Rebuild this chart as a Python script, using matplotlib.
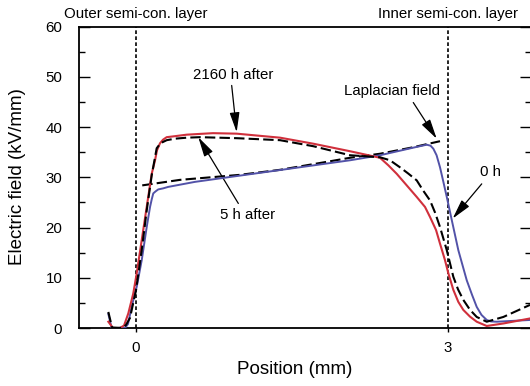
import matplotlib
matplotlib.use("Agg")
import matplotlib.pyplot as plt
from matplotlib.ticker import MultipleLocator

plt.rcParams['font.family'] = ['Liberation Sans', 'DejaVu Sans']

# ---- data ----
pos_0h = [-0.266, -0.234, -0.173, -0.135, -0.106, -0.077, -0.041, -0.019, 0.007, 0.055,
          0.103, 0.135, 0.151, 0.166, 0.188, 0.214, 0.26, 0.31, 0.567, 2.058,
          2.346, 2.663, 2.795, 2.832, 2.859, 2.89, 2.923, 2.952, 2.988, 3.036,
          3.099, 3.18, 3.231, 3.276, 3.322, 3.372, 3.413, 3.468, 3.788]
field_0h = [2.8, 0.0, 0.0, 0.1, 0.0, 0.8, 4.2, 6.2, 8.2, 13.5,
            20.1, 24.1, 25.6, 26.8, 27.2, 27.6, 27.8, 28.1, 29.1, 33.4,
            34.4, 35.9, 36.5, 36.3, 35.7, 34.4, 32.0, 29.4, 26.1, 21.5,
            15.5, 9.5, 6.6, 4.2, 2.6, 1.6, 1.3, 1.25, 1.6]

pos_2160h = [-0.266, -0.221, -0.154, -0.115, -0.074, -0.026, 0.007, 0.055, 0.103, 0.151,
             0.183, 0.202, 0.231, 0.26, 0.295, 0.375, 0.488, 0.74, 0.968, 1.385,
             1.705, 2.058, 2.346, 2.426, 2.507, 2.603, 2.699, 2.779, 2.827, 2.885,
             2.923, 2.971, 3.003, 3.051, 3.099, 3.147, 3.212, 3.276, 3.372, 3.532,
             3.788]
field_2160h = [1.25, 0.0, 0.0, 0.5, 2.9, 6.9, 10.9, 17.5, 24.1, 30.7,
               33.4, 35.4, 36.8, 37.5, 38.0, 38.2, 38.5, 38.8, 38.7, 37.9,
               36.7, 35.2, 33.9, 32.4, 30.7, 28.4, 26.1, 24.1, 22.1, 19.5,
               16.8, 13.5, 10.9, 7.6, 5.2, 3.6, 2.25, 1.25, 0.4, 0.9,
               1.9]

pos_5h = [-0.266, -0.23, -0.135, -0.096, -0.058, 0.0, 0.055, 0.103, 0.151, 0.199,
          0.236, 0.295, 0.375, 0.488, 0.615, 0.968, 1.385, 1.705, 2.058, 2.346,
          2.442, 2.538, 2.615, 2.699, 2.76, 2.827, 2.875, 2.923, 2.988, 3.019,
          3.051, 3.096, 3.147, 3.212, 3.276, 3.372, 3.532, 3.788]
field_5h = [3.2, 0.1, 0.0, 0.6, 2.0, 7.5, 15.5, 23.4, 30.4, 35.8,
            36.8, 37.4, 37.7, 37.9, 38.0, 37.8, 37.4, 36.2, 34.4, 34.0,
            33.4, 32.0, 30.8, 29.4, 27.4, 25.4, 23.0, 20.1, 15.5, 12.9,
            10.2, 7.7, 5.6, 3.6, 2.2, 1.25, 2.2, 4.6]

pos_lap = [0.06, 0.423, 1.0, 1.385, 1.865, 2.058, 2.346, 2.666, 2.923]
field_lap = [28.4, 29.5, 30.5, 31.5, 33.2, 33.9, 34.7, 36.0, 37.2]

layer_pos = [0, 3]
layer_names = ["Outer semi-con. layer", "Inner semi-con. layer"]
x_ticks = [0, 3]
x_ticklabels = ["0", "3"]

# annotations: (text, text_xy, arrow_tail, arrow_tip)
annotations = [
    ("2160 h after", (0.937, 50.3), (0.92, 48.3), (0.968, 39.0)),
    ("5 h after", (1.077, 22.5), (0.984, 24.8), (0.599, 38.0)),
    ("Laplacian field", (2.459, 47.1), (2.666, 44.9), (2.891, 37.7)),
    ("0 h", (3.404, 31.0), (3.324, 28.7), (3.045, 21.8)),
]

RED = '#d0303c'
BLUE = '#5252a8'
FS = 10.8

fig = plt.figure(figsize=(5.30, 3.86), dpi=100)
ax = fig.add_axes([79/530, 58/386, 451.5/530, 301.3/386])

ax.set_xlim(-0.548, 3.793)
ax.set_ylim(0, 60)

for xp in layer_pos:
    ax.plot([xp, xp], [0, 60], color='black', lw=1.2, dashes=(2.2, 1.4), zorder=2)

ax.plot(pos_lap, field_lap, color='black', lw=1.5, dashes=(5, 2), zorder=3)
ax.plot(pos_0h, field_0h, color=BLUE, lw=1.4, zorder=4)
ax.plot(pos_2160h, field_2160h, color=RED, lw=1.5, zorder=4)
ax.plot(pos_5h, field_5h, color='black', lw=1.5, dashes=(5, 2), zorder=5)

for txt, txy, tail, tip in annotations:
    ax.text(txy[0], txy[1], txt, ha='center', va='center', fontsize=FS)
    ax.annotate('', xy=tip, xytext=tail,
                arrowprops=dict(arrowstyle='-|>,head_length=1.2,head_width=0.3',
                                color='black', lw=0.9, shrinkA=0, shrinkB=0,
                                mutation_scale=10))

for xp, name in zip(layer_pos, layer_names):
    ax.text(xp, 61.2, name, ha='center', va='bottom', fontsize=FS, clip_on=False)

ax.set_xticks(x_ticks)
ax.set_xticklabels(x_ticklabels)
ax.yaxis.set_major_locator(MultipleLocator(10))
ax.yaxis.set_minor_locator(MultipleLocator(5))
ax.tick_params(axis='y', which='major', direction='in', length=8, width=1.0,
               labelsize=FS, pad=12, left=True, right=True)
ax.tick_params(axis='y', which='minor', direction='in', length=4, width=1.0,
               left=True, right=True)
ax.tick_params(axis='x', which='major', direction='out', length=3, width=1.0,
               labelsize=FS, pad=6)

for s in ['left', 'bottom', 'top']:
    ax.spines[s].set_linewidth(1.3)
ax.spines['right'].set_visible(False)

fig.text(18/530, (386-177)/386, 'Electric field (kV/mm)', rotation=90,
         ha='center', va='center', fontsize=13.5)
fig.text(295/530, (386-370)/386, 'Position (mm)', ha='center', va='center', fontsize=13.5)

fig.savefig('out.png', dpi=100)
